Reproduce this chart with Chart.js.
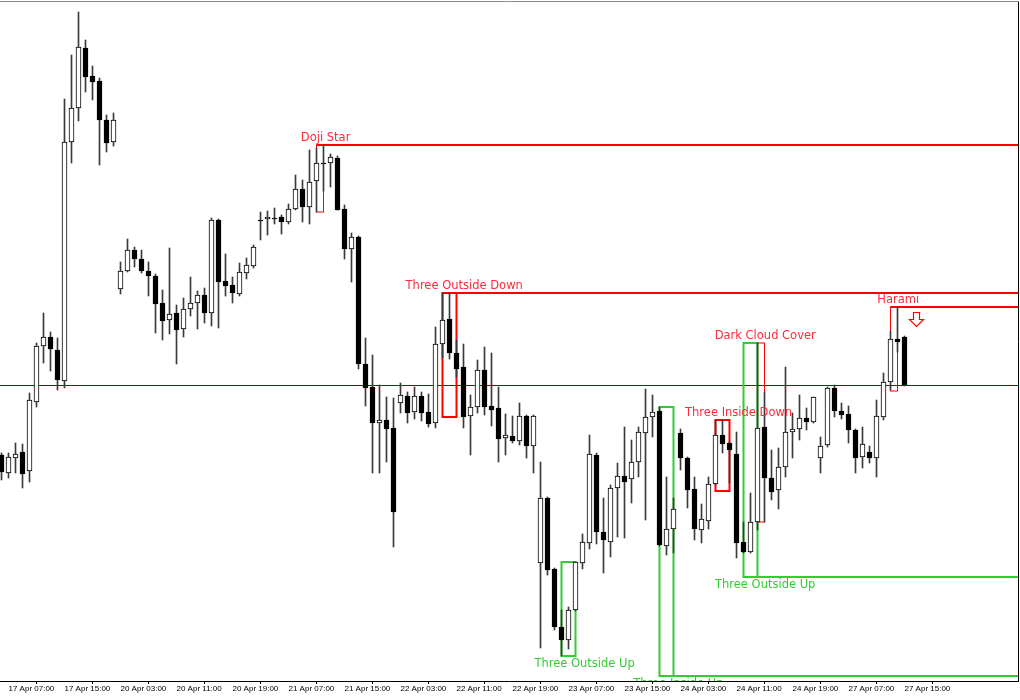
<!DOCTYPE html>
<html>
<head>
<meta charset="utf-8">
<script src="https://cdn.jsdelivr.net/npm/chart.js@4.4.1/dist/chart.umd.min.js"></script>
<style>
  html, body { margin: 0; padding: 0; background: #fff; }
</style>
</head>
<body>
<canvas id="chart" width="1020" height="700"></canvas>
<script>
// H1 candles, values in points (bar 0 = 17 Apr 06:00)
const opens = [
  245,227,242,248,229,298,354,363,350,319,
  558,592,652,624,619,580,558,411,429,450,
  441,429,424,397,380,387,371,391,397,405,
  387,480,419,415,406,427,434,480,481,482,
  483,478,491,511,493,519,537,537,542,491,
  451,463,336,313,277,280,272,297,304,288,
  304,288,277,356,381,347,333,284,293,330,
  294,292,262,264,259,284,254,137,202,131,
  73,60,90,137,157,245,168,158,212,224,
  221,238,267,283,289,154,171,267,242,211,
  170,179,216,265,257,246,158,148,178,273,
  222,210,233,268,271,282,278,242,255,312,
  289,286,270,243,248,242,283,318,361,363
];
const highs = [
  247,247,257,256,307,357,387,368,362,601,
  645,688,660,634,622,585,587,438,461,453,
  450,438,426,410,452,395,402,423,409,412,
  482,481,446,423,437,442,455,488,489,492,
  485,496,525,520,550,552,555,546,544,495,
  467,464,362,345,315,303,302,317,308,313,
  308,306,373,407,407,360,356,305,340,353,
  347,313,286,284,297,285,285,238,203,132,
  90,93,138,166,265,247,202,215,237,273,
  260,273,311,305,293,223,202,271,243,223,
  196,223,280,280,258,268,178,207,357,308,
  250,252,333,287,305,292,303,263,313,315,
  297,294,271,273,254,300,327,369,393,364
];
const lows = [
  220,222,227,212,218,293,337,329,310,312,
  537,579,608,600,535,548,554,406,428,433,
  427,404,367,360,366,336,363,384,371,377,
  374,372,404,397,404,421,432,460,465,476,
  466,476,490,478,476,488,509,513,490,441,
  418,331,294,227,227,238,153,287,277,281,
  279,273,272,342,341,323,272,245,287,285,
  274,238,245,257,255,242,227,52,125,70,
  44,51,89,131,151,156,127,143,163,162,
  197,223,180,263,154,145,147,230,192,160,
  157,171,215,247,217,142,147,147,170,178,
  200,191,223,242,260,270,277,227,253,283,
  281,257,227,232,237,223,280,310,348,314
];
const closes = [
  228,243,246,226,300,354,363,351,320,558,
  592,653,623,618,580,557,580,429,450,441,
  429,424,396,379,386,370,391,397,405,387,
  480,418,414,407,428,435,453,479,483,481,
  478,491,511,493,518,537,536,543,490,451,
  463,336,312,277,280,271,188,305,287,304,
  287,276,356,380,347,331,283,293,330,293,
  290,261,265,259,284,254,284,202,130,73,
  60,90,138,158,246,168,160,212,224,218,
  238,268,283,288,155,171,191,242,210,171,
  181,216,265,256,250,157,148,178,272,222,
  208,233,268,271,282,278,303,254,312,289,
  285,270,242,256,242,284,318,361,358,315
];

// time axis: a label every 8 bars, starting at bar 1
const tickLabels = [
  '17 Apr 07:00','17 Apr 15:00','20 Apr 03:00','20 Apr 11:00','20 Apr 19:00',
  '21 Apr 07:00','21 Apr 15:00','22 Apr 03:00','22 Apr 11:00','22 Apr 19:00',
  '23 Apr 07:00','23 Apr 15:00','24 Apr 03:00','24 Apr 11:00','24 Apr 19:00',
  '27 Apr 07:00','27 Apr 15:00'
];
const tickIndex = tickLabels.map((_, k) => 1 + 8 * k);

// candlestick patterns found by the indicator
const patternNames = ['Doji Star','Three Outside Down','Three Outside Up','Three Inside Up',
                      'Three Inside Down','Three Outside Up','Dark Cloud Cover','Harami'];
const patternFrom = [45, 63, 80, 94, 102, 106, 108, 127];
const patternTo = [46, 65, 82, 96, 104, 108, 109, 128];
const patternTop = [555, 407, 138, 293, 280, 357, 357, 393];
const patternBottom = [488, 283, 44, 24, 209, 123, 178, 309];
const patternBullish = [false, false, true, true, false, true, false, false];
const patternExtended = [true, true, false, true, false, true, false, true];
const patternLabelAt = [46.3, 66.1, 83.3, 96.7, 105.3, 109.1, 109.1, 128.1];

// sell signal arrow after the Harami
const arrowAt = 130.6;
const arrowPrice = 388;

const RED = '#ff0000';
const RED_TEXT = '#ff2a3a';
const GREEN = '#32cd32';

const patternPlugin = {
  id: 'patterns',
  beforeDatasetsDraw(chart) {
    const {ctx, chartArea} = chart;
    const xs = chart.scales.x;
    const ys = chart.scales.y;
    ctx.save();
    ctx.beginPath();
    ctx.rect(chartArea.left, chartArea.top, chartArea.right - chartArea.left, chartArea.bottom - chartArea.top);
    ctx.clip();

    // bid line at the last close
    const bidY = Math.round(ys.getPixelForValue(closes[closes.length - 1])) + 0.5;
    ctx.strokeStyle = '#7a0a0a';
    ctx.lineWidth = 1;
    ctx.beginPath();
    ctx.moveTo(chartArea.left, bidY);
    ctx.lineTo(chartArea.right, bidY);
    ctx.stroke();

    patternNames.forEach((name, k) => {
      const x1 = xs.getPixelForValue(patternFrom[k]);
      const x2 = xs.getPixelForValue(patternTo[k]);
      const yT = ys.getPixelForValue(patternTop[k]);
      const yB = ys.getPixelForValue(patternBottom[k]);
      const col = patternBullish[k] ? GREEN : RED;
      ctx.strokeStyle = col;
      ctx.lineWidth = (patternTo[k] - patternFrom[k] === 1) ? 1 : 2;
      ctx.strokeRect(x1, yT, x2 - x1, yB - yT);
      if (patternExtended[k]) {
        const ly = patternBullish[k] ? yB : yT;
        ctx.lineWidth = 2;
        ctx.beginPath();
        ctx.moveTo(x1, ly);
        ctx.lineTo(chartArea.right, ly);
        ctx.stroke();
      }
    });
    ctx.restore();
  },
  afterDatasetsDraw(chart) {
    const {ctx, chartArea} = chart;
    const xs = chart.scales.x;
    const ys = chart.scales.y;
    ctx.save();
    ctx.beginPath();
    ctx.rect(chartArea.left, chartArea.top, chartArea.right - chartArea.left, chartArea.bottom - chartArea.top);
    ctx.clip();

    ctx.font = '11.5px "DejaVu Sans"';
    ctx.textAlign = 'center';
    ctx.textBaseline = 'middle';
    patternNames.forEach((name, k) => {
      const lx = xs.getPixelForValue(patternLabelAt[k]);
      const ly = patternBullish[k] ? ys.getPixelForValue(patternBottom[k]) + 8
                                   : ys.getPixelForValue(patternTop[k]) - 7;
      ctx.fillStyle = patternBullish[k] ? GREEN : RED_TEXT;
      ctx.fillText(name, lx, ly);
    });

    // hollow down arrow
    const ax = Math.round(xs.getPixelForValue(arrowAt)) + 0.5;
    const ay = Math.round(ys.getPixelForValue(arrowPrice)) + 0.5;
    ctx.strokeStyle = RED;
    ctx.lineWidth = 1.2;
    ctx.beginPath();
    ctx.moveTo(ax - 3, ay);
    ctx.lineTo(ax + 3, ay);
    ctx.lineTo(ax + 3, ay + 7);
    ctx.lineTo(ax + 7, ay + 7);
    ctx.lineTo(ax, ay + 14);
    ctx.lineTo(ax - 7, ay + 7);
    ctx.lineTo(ax - 3, ay + 7);
    ctx.closePath();
    ctx.stroke();
    ctx.restore();

    // frame: grey top, black right
    ctx.save();
    ctx.lineWidth = 1;
    ctx.strokeStyle = '#8c8c8c';
    ctx.beginPath();
    ctx.moveTo(0, chartArea.top - 0.5);
    ctx.lineTo(chartArea.right + 1, chartArea.top - 0.5);
    ctx.stroke();
    ctx.strokeStyle = '#000';
    ctx.beginPath();
    ctx.moveTo(chartArea.right + 0.5, chartArea.top);
    ctx.lineTo(chartArea.right + 0.5, chartArea.bottom);
    ctx.stroke();
    ctx.restore();
  }
};

const bodyColors = closes.map((c, i) => c >= opens[i] ? '#ffffff' : '#000000');

const ctx = document.getElementById('chart').getContext('2d');
new Chart(ctx, {
  type: 'bar',
  data: {
    datasets: [
      {
        label: 'wick',
        data: lows.map((lo, i) => ({ x: i, y: [lo, highs[i]] })),
        backgroundColor: '#3a3a3a',
        barThickness: 1,
        grouped: false,
        order: 2
      },
      {
        label: 'body',
        data: opens.map((o, i) => ({ x: i, y: [o, closes[i]] })),
        backgroundColor: bodyColors,
        borderColor: '#000000',
        borderWidth: 1,
        borderSkipped: false,
        barThickness: 5,
        grouped: false,
        order: 1
      }
    ]
  },
  options: {
    responsive: false,
    animation: false,
    layout: { padding: { left: 0, right: 2, top: 2, bottom: 0 } },
    plugins: {
      legend: { display: false },
      tooltip: { enabled: false }
    },
    scales: {
      x: {
        type: 'linear',
        min: -1.5 / 7,
        max: -1.5 / 7 + 1018 / 7,
        offset: false,
        afterBuildTicks: (scale) => {
          scale.ticks = tickIndex.map(v => ({ value: v }));
        },
        afterFit: (scale) => { scale.height = 19; },
        grid: {
          drawOnChartArea: false,
          drawTicks: true,
          tickLength: 3,
          color: '#000'
        },
        border: { display: true, color: '#000', width: 1 },
        ticks: {
          autoSkip: false,
          maxRotation: 0,
          align: 'start',
          padding: 0,
          color: '#000',
          font: { family: 'Liberation Sans', size: 8 },
          callback: (value) => tickLabels[tickIndex.indexOf(value)]
        }
      },
      y: {
        display: false,
        min: 19,
        max: 698
      }
    }
  },
  plugins: [patternPlugin]
});
</script>
</body>
</html>
